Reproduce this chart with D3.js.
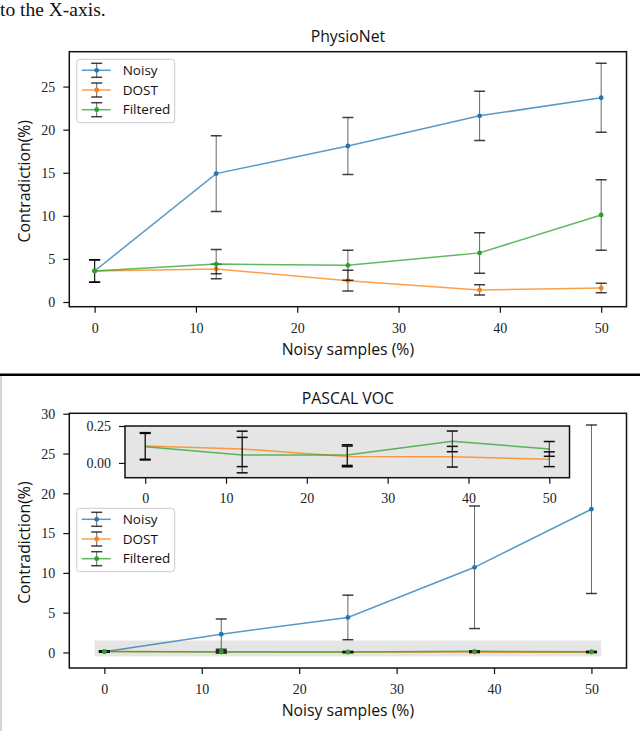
<!doctype html>
<head>
  <meta charset="utf-8">
  <script src="https://cdnjs.cloudflare.com/ajax/libs/d3/7.8.2/d3.min.js"></script>
</head>
<style>
    body { margin: 0; background: white; }
    svg { display: block; }
    .num { font-family: "Liberation Serif", serif; font-size: 14px; fill: #222; }
    .lbl { font-family: "Open Sans", "Noto Sans", sans-serif; fill: #111; }
</style>
<body>
    <div id="figure"></div>
    <script>
        // Datos: porcentaje de muestras ruidosas en el eje X
        const noisyPcts = [0, 12, 25, 38, 50];
        const xTicks = [0, 10, 20, 30, 40, 50];
        const seriesNames = ["Noisy", "DOST", "Filtered"];
        const seriesColors = ["#1f77b4", "#ff7f0e", "#2ca02c"];

        // PhysioNet
        const physioNoisy = [3.6, 14.9, 18.1, 21.6, 23.7];
        const physioNoisyErr = [1.3, 4.4, 3.3, 2.85, 4.0];
        const physioDost = [3.6, 3.84, 2.48, 1.4, 1.62];
        const physioDostErr = [1.3, 0.55, 1.2, 0.6, 0.55];
        const physioFiltered = [3.6, 4.4, 4.26, 5.7, 10.1];
        const physioFilteredErr = [1.3, 1.7, 1.75, 2.35, 4.1];
        const physioYTicks = [0, 5, 10, 15, 20, 25];

        // PASCAL VOC
        const pascalNoisy = [0.1, 2.3, 4.4, 10.7, 18.0];
        const pascalNoisyErr = [0.05, 1.9, 2.8, 7.7, 10.6];
        const pascalDost = [0.115, 0.095, 0.044, 0.042, 0.025];
        const pascalDostErr = [0.09, 0.12, 0.07, 0.07, 0.05];
        const pascalFiltered = [0.11, 0.053, 0.053, 0.146, 0.095];
        const pascalFilteredErr = [0.09, 0.12, 0.07, 0.07, 0.05];
        const pascalYTicks = [0, 5, 10, 15, 20, 25, 30];
        const insetYTicks = [0, 0.25];
        const insetYLim = [-0.1, 0.25];
        const highlightX = [-1, 51];
        const highlightY = [-0.5, 1.5];

        const W = 640, H = 731;
        const svg = d3.select('#figure').append('svg')
            .attr('width', W).attr('height', H);

        // Margen del 5% como matplotlib
        function padExtent(lo, hi) {
            const m = (hi - lo) * 0.05;
            return [lo - m, hi + m];
        }

        function makeSeries(values, errs, i) {
            return {
                name: seriesNames[i],
                color: seriesColors[i],
                points: noisyPcts.map((x, j) => ({x: x, y: values[j], e: errs[j]})),
            };
        }

        function drawErrorBars(g, series, x, y, capHalf, opacity) {
            const eb = g.append('g').attr('stroke', '#000');
            eb.selectAll('.bar').data(series.points).enter().append('line')
                .attr('x1', (d) => x(d.x)).attr('x2', (d) => x(d.x))
                .attr('y1', (d) => y(d.y - d.e)).attr('y2', (d) => y(d.y + d.e))
                .attr('stroke-width', 1).attr('stroke-opacity', opacity);
            const caps = series.points.flatMap((d) => [d.y - d.e, d.y + d.e].map((v) => ({x: d.x, v: v})));
            eb.selectAll('.cap').data(caps).enter().append('line')
                .attr('x1', (d) => x(d.x) - capHalf).attr('x2', (d) => x(d.x) + capHalf)
                .attr('y1', (d) => y(d.v)).attr('y2', (d) => y(d.v))
                .attr('stroke-width', 1.5).attr('stroke-opacity', Math.min(1, opacity + 0.15));
        }

        function drawSeries(g, series, x, y, withMarkers, ebOpacity) {
            const line = d3.line().x((d) => x(d.x)).y((d) => y(d.y));
            g.append('path')
                .datum(series.points)
                .attr('d', line)
                .attr('fill', 'none')
                .attr('stroke', series.color)
                .attr('stroke-width', 1.5)
                .attr('stroke-opacity', 0.75);
            drawErrorBars(g, series, x, y, 5.5, ebOpacity);
            if (withMarkers) {
                g.selectAll('.dot').data(series.points).enter().append('circle')
                    .attr('cx', (d) => x(d.x)).attr('cy', (d) => y(d.y))
                    .attr('r', 2.4).attr('fill', series.color);
            }
        }

        function drawAxes(g, x, y, box, yTicks, yFormat, xLabelGap) {
            const xAxis = d3.axisBottom(x).tickValues(xTicks).tickSize(6).tickFormat(d3.format('d'));
            const yAxis = d3.axisLeft(y).tickValues(yTicks).tickSize(6).tickFormat(yFormat);
            const gx = g.append('g').attr('transform', `translate(0,${box.bottom})`).call(xAxis);
            const gy = g.append('g').attr('transform', `translate(${box.left},0)`).call(yAxis);
            [gx, gy].forEach((a) => {
                a.select('.domain').remove();
                a.selectAll('line').attr('stroke', '#111').attr('stroke-width', 1.2);
                a.selectAll('text').attr('class', 'num').attr('font-family', null).attr('font-size', null);
            });
            gx.selectAll('text').attr('dy', null).attr('y', xLabelGap);
            gy.selectAll('text').attr('dy', '0.35em').attr('x', -14);
            g.append('rect')
                .attr('x', box.left).attr('y', box.top)
                .attr('width', box.right - box.left).attr('height', box.bottom - box.top)
                .attr('fill', 'none').attr('stroke', '#111').attr('stroke-width', 1.5);
        }

        function drawLegend(g, left, top, series) {
            const lg = g.append('g').attr('transform', `translate(${left},${top})`);
            lg.append('rect')
                .attr('width', 98).attr('height', 63.4).attr('rx', 3)
                .attr('fill', 'white').attr('fill-opacity', 0.85)
                .attr('stroke', '#ccc').attr('stroke-width', 1);
            series.forEach((s, i) => {
                const cy = 11 + i * 19.7;
                lg.append('line').attr('x1', 5).attr('x2', 34).attr('y1', cy).attr('y2', cy)
                    .attr('stroke', s.color).attr('stroke-width', 1.5).attr('stroke-opacity', 0.75);
                lg.append('line').attr('x1', 20).attr('x2', 20).attr('y1', cy - 7).attr('y2', cy + 7)
                    .attr('stroke', '#000').attr('stroke-opacity', 0.6);
                [cy - 7, cy + 7].forEach((cyCap) => {
                    lg.append('line').attr('x1', 14.5).attr('x2', 25.5).attr('y1', cyCap).attr('y2', cyCap)
                        .attr('stroke', '#000').attr('stroke-width', 1.5).attr('stroke-opacity', 0.75);
                });
                lg.append('circle').attr('cx', 20).attr('cy', cy).attr('r', 2.4).attr('fill', s.color);
                lg.append('text').attr('class', 'lbl').attr('x', 46).attr('y', cy).attr('dy', '0.35em')
                    .attr('font-size', 13.5).text(s.name);
            });
        }

        function drawPanel(cfg) {
            const box = cfg.box;
            const x = d3.scaleLinear().domain(cfg.xDomain).range([box.left, box.right]);
            const y = d3.scaleLinear().domain(cfg.yDomain).range([box.bottom, box.top]);
            const g = svg.append('g');

            const clipId = 'clip-' + cfg.id;
            g.append('clipPath').attr('id', clipId).append('rect')
                .attr('x', box.left).attr('y', box.top)
                .attr('width', box.right - box.left).attr('height', box.bottom - box.top);

            const plot = g.append('g').attr('clip-path', `url(#${clipId})`);
            if (cfg.highlight) {
                plot.append('rect')
                    .attr('x', x(highlightX[0])).attr('y', y(highlightY[1]))
                    .attr('width', x(highlightX[1]) - x(highlightX[0]))
                    .attr('height', y(highlightY[0]) - y(highlightY[1]))
                    .attr('fill', '#e5e5e5');
            }
            cfg.series.forEach((s) => drawSeries(plot, s, x, y, true, 0.6));

            drawAxes(g, x, y, box, cfg.yTicks, d3.format('d'), 26.3);

            g.append('text').attr('class', 'lbl').attr('font-size', 15.8)
                .attr('x', (box.left + box.right) / 2).attr('y', cfg.titleY)
                .attr('text-anchor', 'middle').text(cfg.title);
            g.append('text').attr('class', 'lbl').attr('font-size', 15.8)
                .attr('x', (box.left + box.right) / 2).attr('y', box.bottom + 48.3)
                .attr('text-anchor', 'middle').text('Noisy samples (%)');
            g.append('text').attr('class', 'lbl').attr('font-size', 15.8)
                .attr('transform', `translate(29.5,${(box.top + box.bottom) / 2 + 2}) rotate(-90)`)
                .attr('text-anchor', 'middle').text('Contradiction(%)');

            drawLegend(g, 76.7, box.top + cfg.legendOffset, cfg.series);
            return g;
        }

        function drawInset(box, series) {
            const x = d3.scaleLinear().domain(padExtent(0, 50)).range([box.left, box.right]);
            const y = d3.scaleLinear().domain(insetYLim).range([box.bottom, box.top]);
            const g = svg.append('g');
            g.append('rect')
                .attr('x', box.left).attr('y', box.top)
                .attr('width', box.right - box.left).attr('height', box.bottom - box.top)
                .attr('fill', '#e5e5e5');
            series.forEach((s) => drawSeries(g, s, x, y, false, 0.8));
            drawAxes(g, x, y, box, insetYTicks, d3.format('.2f'), 25.3);
        }

        // Texto del documento
        svg.append('text').attr('x', 0).attr('y', 15.5)
            .attr('font-family', '"Liberation Serif", serif').attr('font-size', 19.5)
            .attr('fill', '#111').text('to the X-axis.');

        // PhysioNet
        const physioSeries = [
            makeSeries(physioNoisy, physioNoisyErr, 0),
            makeSeries(physioDost, physioDostErr, 1),
            makeSeries(physioFiltered, physioFilteredErr, 2),
        ];
        const physioLo = d3.min(physioSeries, (s) => d3.min(s.points, (d) => d.y - d.e));
        const physioHi = d3.max(physioSeries, (s) => d3.max(s.points, (d) => d.y + d.e));
        drawPanel({
            id: 'physio',
            title: 'PhysioNet',
            titleY: 41.7,
            box: {left: 69.3, right: 626.5, top: 51.7, bottom: 306.7},
            xDomain: padExtent(0, 50),
            yDomain: padExtent(physioLo, physioHi),
            yTicks: physioYTicks,
            series: physioSeries,
            highlight: false,
            legendOffset: 7.6,
        });

        // Separador entre figuras
        svg.append('line').attr('x1', 0).attr('x2', W).attr('y1', 374.7).attr('y2', 374.7)
            .attr('stroke', '#000').attr('stroke-width', 2.6);
        svg.append('line').attr('x1', 1).attr('x2', 1).attr('y1', 376).attr('y2', H)
            .attr('stroke', '#c8c8c8').attr('stroke-width', 1.5);

        // PASCAL VOC
        const pascalSeries = [
            makeSeries(pascalNoisy, pascalNoisyErr, 0),
            makeSeries(pascalDost, pascalDostErr, 1),
            makeSeries(pascalFiltered, pascalFilteredErr, 2),
        ];
        const pascalHi = d3.max(pascalSeries, (s) => d3.max(s.points, (d) => d.y + d.e));
        drawPanel({
            id: 'pascal',
            title: 'PASCAL VOC',
            titleY: 403.5,
            box: {left: 69.3, right: 626.5, top: 413.3, bottom: 668},
            xDomain: padExtent(highlightX[0], highlightX[1]),
            yDomain: padExtent(highlightY[0], pascalHi),
            yTicks: pascalYTicks,
            series: pascalSeries,
            highlight: true,
            legendOffset: 95,
        });

        // Detalle ampliado de DOST y Filtered
        drawInset({left: 125, right: 569.5, top: 426, bottom: 477.7}, pascalSeries.slice(1));
    </script>
</body>
